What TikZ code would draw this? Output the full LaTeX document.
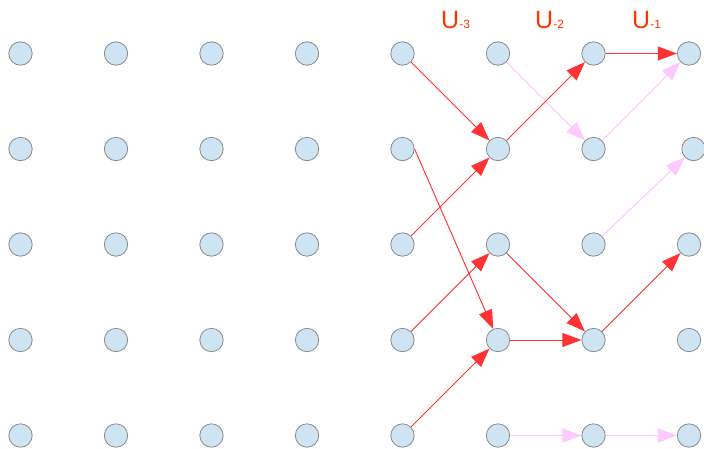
\documentclass[tikz,border=0pt]{standalone}
\usepackage{fontspec}
\setmainfont{Liberation Sans}
\usetikzlibrary{arrows.meta}
\definecolor{myblue}{RGB}{206,228,242}
\definecolor{myred}{RGB}{255,51,51}
\definecolor{mypink}{RGB}{255,200,255}
\definecolor{mylabel}{RGB}{255,51,0}

\begin{document}
\begin{tikzpicture}[x=1pt,y=-1pt,
  dot/.style={circle,draw=gray!90,fill=myblue,line width=0.8pt,minimum size=23.4pt,inner sep=0pt},
  hot/.style={draw=myred,line width=0.9pt,-{Triangle[length=19pt,width=14pt]},fill=myred},
  cold/.style={draw=mypink,line width=1pt,-{Triangle[length=19pt,width=14pt]},fill=mypink},
  ulab/.style={anchor=base west,inner sep=0pt,text=mylabel,font=\fontsize{25}{25}\selectfont}]
\useasboundingbox (0,0) rectangle (704,448);
\foreach \c in {0,...,7}
  \foreach \r in {0,...,4} {
    \pgfmathsetmacro\dx{and(\c==7,\r==1)*4.5}
    \node[dot] (n-\r-\c) at (20.5+95.5*\c+\dx,53.5+95.5*\r) {};
  }
\node[ulab] (u3) at (441,28) {U{\fontsize{12}{12}\selectfont -3}};
\node[ulab] (u2) at (535,28) {U{\fontsize{12}{12}\selectfont -2}};
\node[ulab] (u1) at (632,28) {U{\fontsize{12}{12}\selectfont -1}};
% faint moves
\draw[cold] (n-0-5) -- (n-1-6);
\draw[cold] (n-1-6) -- (n-0-7);
\draw[cold] (n-2-6) -- (n-1-7);
\draw[cold] (n-4-5) -- (n-4-6);
\draw[cold] (n-4-6) -- (n-4-7);
% strong moves
\draw[hot] (n-0-4) -- (n-1-5);
\draw[hot] (n-1-4.east) -- (n-3-5);
\draw[hot] (n-2-4) -- (n-1-5);
\draw[hot] (n-3-4) -- (n-2-5);
\draw[hot] (n-4-4) -- (n-3-5);
\draw[hot] (n-1-5) -- (n-0-6);
\draw[hot] (n-2-5) -- (n-3-6);
\draw[hot] (n-3-5) -- (n-3-6);
\draw[hot] (n-0-6) -- (n-0-7);
\draw[hot] (n-3-6) -- (n-2-7);
\end{tikzpicture}
\end{document}
